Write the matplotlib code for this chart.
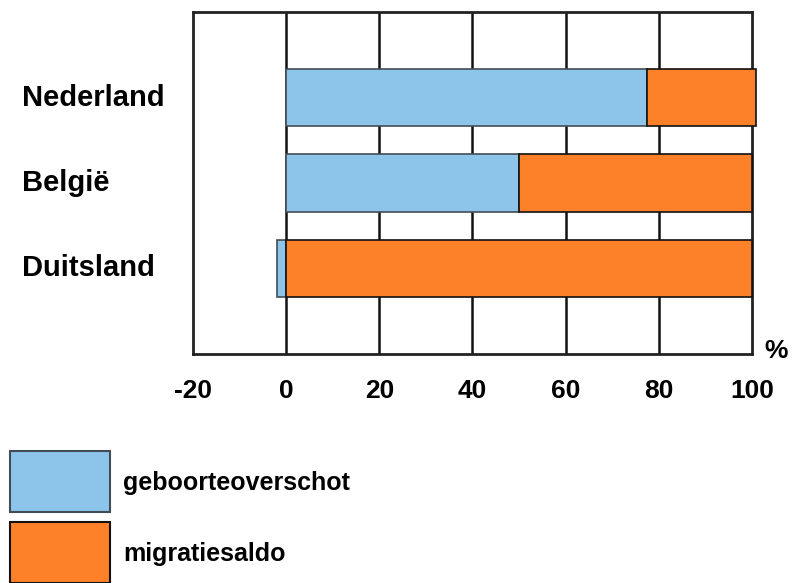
import matplotlib
matplotlib.use("Agg")
import matplotlib.pyplot as plt
import matplotlib.transforms as mtransforms
from matplotlib.patches import Rectangle

# data
landen = ["Duitsland", "België", "Nederland"]
geboorteoverschot = [-2, 50, 77.5]
migratiesaldo = [100, 50, 23.4]
ticks = [-20, 0, 20, 40, 60, 80, 100]
series_names = ["geboorteoverschot", "migratiesaldo"]

blauw = "#8DC4EA"
oranje = "#FD8128"

plt.rcParams['font.family'] = ['Liberation Sans', 'DejaVu Sans']
plt.rcParams['font.weight'] = 'bold'

W, H = 792, 583
fig = plt.figure(figsize=(W / 100, H / 100), dpi=100)
ax = fig.add_axes([193 / W, 1 - 354 / H, (752 - 193) / W, (354 - 12) / H])

ypos = list(range(len(landen)))
# orange starts where the blue stops, but not left of zero
links = [max(g, 0) for g in geboorteoverschot]
ax.barh(ypos, geboorteoverschot, height=0.67, color=blauw, edgecolor="#444c55",
        linewidth=1.2, zorder=3)
ax.barh(ypos, migratiesaldo, left=links, height=0.67, color=oranje,
        edgecolor="#111111", linewidth=1.2, zorder=3, clip_on=False)

ax.set_xlim(-20, 100)
ax.set_ylim(-1, 3)
for t in ticks[1:-1]:
    ax.axvline(t, color="#111111", lw=1.8, zorder=1)
for s in ax.spines.values():
    s.set_linewidth(2)
    s.set_color("#222222")

ax.set_xticks(ticks)
ax.set_xticklabels([str(t) for t in ticks], fontsize=19, fontweight="bold")
ax.tick_params(axis="x", length=0, pad=18)
ax.set_yticks([])

# country names, left aligned in the figure
trans = mtransforms.blended_transform_factory(fig.transFigure, ax.transData)
for y, naam in zip(ypos, landen):
    fig.text(22 / W, y, naam, fontsize=21, fontweight="bold", va="center", ha="left",
             transform=trans)

fig.text(764 / W, 1 - 351 / H, "%", fontsize=19, fontweight="bold", va="center", ha="left")

# legend
leg = fig.add_axes([0, 0, 1, 1], zorder=-1)
leg.set_xlim(0, W)
leg.set_ylim(H, 0)
leg.axis("off")
for i, (naam, kleur) in enumerate(zip(series_names, [blauw, oranje])):
    y0 = 451 + i * 71
    leg.add_patch(Rectangle((10, y0), 100, 61, facecolor=kleur,
                            edgecolor="#444c55" if i == 0 else "#111111", lw=1.5))
    leg.text(123, y0 + 32, naam, fontsize=18, fontweight="bold", va="center", ha="left")

fig.savefig("out.png", dpi=100)
